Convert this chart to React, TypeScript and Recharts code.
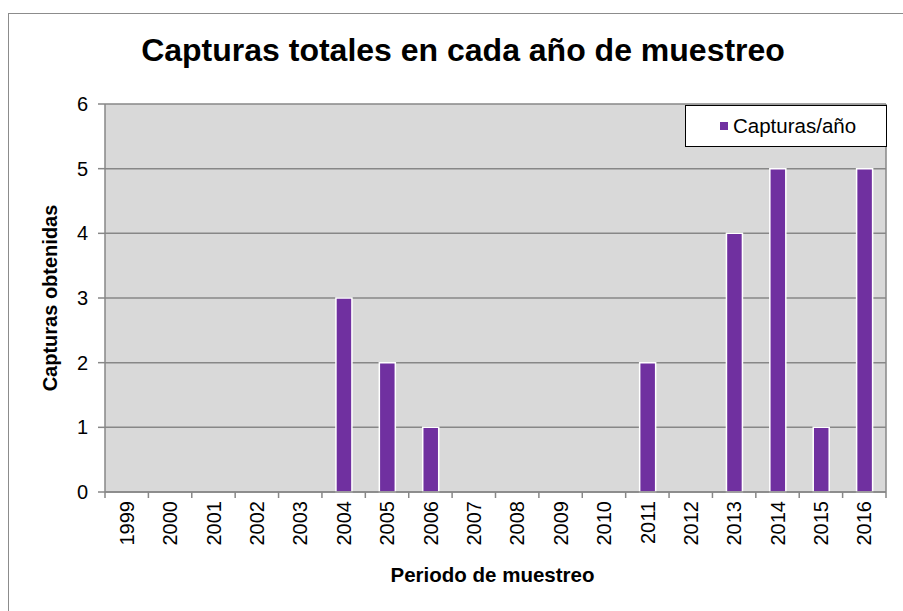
import React from "react";
import {
  Bar,
  BarChart,
  CartesianGrid,
  Label,
  Legend,
  XAxis,
  YAxis,
} from "recharts";

const years = [
  "1999", "2000", "2001", "2002", "2003", "2004", "2005", "2006", "2007",
  "2008", "2009", "2010", "2011", "2012", "2013", "2014", "2015", "2016",
];
const capturas = [0, 0, 0, 0, 0, 3, 2, 1, 0, 0, 0, 0, 2, 0, 4, 5, 1, 5];
const yTicks = [0, 1, 2, 3, 4, 5, 6];

const data = years.map((year, i) => ({ year, capturas: capturas[i] }));

const FONT = '"Liberation Sans", Arial, sans-serif';
const PURPLE = "#7030A0";
const GRID = "#878787";
const W = 903;
const H = 611;
const PLOT_LEFT = 105;
const PLOT_RIGHT = 886;
const PLOT_TOP = 104;
const PLOT_BOTTOM = 492;
const band = (PLOT_RIGHT - PLOT_LEFT) / years.length;

// ticks entre categorías, como en Excel
function YearTick(props: any) {
  const { x, y, payload, index } = props;
  const ty = y + 9;
  return (
    <g>
      <line x1={x - band / 2} y1={y} x2={x - band / 2} y2={y + 6} stroke={GRID} strokeWidth={1.5} />
      {index === years.length - 1 && (
        <line x1={x + band / 2} y1={y} x2={x + band / 2} y2={y + 6} stroke={GRID} strokeWidth={1.5} />
      )}
      <text
        x={x}
        y={ty}
        dy="0.36em"
        textAnchor="end"
        transform={`rotate(-90 ${x} ${ty})`}
        fontSize={20}
        fontFamily={FONT}
        fill="#000"
      >
        {payload.value}
      </text>
    </g>
  );
}

function LegendBox() {
  return (
    <div
      style={{
        boxSizing: "border-box",
        width: 202,
        height: 42,
        border: "1.5px solid #000",
        background: "#fff",
        display: "flex",
        alignItems: "center",
        fontFamily: FONT,
        fontSize: 20.5,
        color: "#000",
      }}
    >
      <span
        style={{
          display: "inline-block",
          width: 8,
          height: 8,
          background: PURPLE,
          marginLeft: 34,
          marginRight: 5,
        }}
      />
      <span>Capturas/año</span>
    </div>
  );
}

export default function App() {
  return (
    <div
      style={{
        position: "fixed",
        left: 0,
        top: 0,
        width: W,
        height: H,
        overflow: "hidden",
        background: "#fff",
        fontFamily: FONT,
      }}
    >
      <div
        style={{
          position: "absolute",
          left: 8,
          top: 13,
          width: W,
          height: H,
          border: "1px solid #8c8c8c",
        }}
      />
      <div
        style={{
          position: "absolute",
          left: 0,
          top: 34,
          width: 926,
          textAlign: "center",
          fontSize: 32,
          lineHeight: "32px",
          fontWeight: "bold",
          color: "#000",
        }}
      >
        Capturas totales en cada año de muestreo
      </div>
      <div style={{ position: "absolute", left: 0, top: 0 }}>
        <BarChart
          width={W}
          height={H}
          data={data}
          margin={{ top: PLOT_TOP, right: W - PLOT_RIGHT, bottom: 0, left: 0 }}
          barCategoryGap={0}
        >
          <CartesianGrid
            fill="#D9D9D9"
            fillOpacity={1}
            stroke={GRID}
            strokeWidth={1.5}
            verticalCoordinatesGenerator={({ offset }: any) => [offset.left + offset.width]}
          />
          <XAxis
            dataKey="year"
            interval={0}
            height={H - PLOT_BOTTOM}
            tickLine={false}
            tickSize={0}
            tickMargin={0}
            axisLine={{ stroke: GRID, strokeWidth: 1.5 }}
            tick={<YearTick />}
          >
            <Label
              content={({ viewBox }: any) => (
                <text
                  x={viewBox.x + viewBox.width / 2 - 3}
                  y={582}
                  textAnchor="middle"
                  fontSize={20.5}
                  fontWeight="bold"
                  fontFamily={FONT}
                  fill="#000"
                >
                  Periodo de muestreo
                </text>
              )}
            />
          </XAxis>
          <YAxis
            width={PLOT_LEFT}
            domain={[0, 6]}
            ticks={yTicks}
            interval={0}
            tickSize={7}
            tickMargin={10}
            axisLine={{ stroke: GRID, strokeWidth: 1.5 }}
            tickLine={{ stroke: GRID, strokeWidth: 1.5 }}
            tick={{ fill: "#000", fontSize: 20, fontFamily: FONT }}
          >
            <Label
              content={({ viewBox }: any) => {
                const cx = 50;
                const cy = viewBox.y + viewBox.height / 2;
                return (
                  <text
                    x={cx}
                    y={cy}
                    dy="0.36em"
                    textAnchor="middle"
                    transform={`rotate(-90 ${cx} ${cy})`}
                    fontSize={20}
                    fontWeight="bold"
                    fontFamily={FONT}
                    fill="#000"
                  >
                    Capturas obtenidas
                  </text>
                );
              }}
            />
          </YAxis>
          <Legend
            layout="horizontal"
            verticalAlign="middle"
            align="center"
            wrapperStyle={{ left: 685, top: 105, width: 202, height: 42 }}
            content={() => <LegendBox />}
          />
          <Bar
            dataKey="capturas"
            name="Capturas/año"
            fill={PURPLE}
            stroke="#fff"
            strokeWidth={1.5}
            barSize={16}
            isAnimationActive={false}
          />
        </BarChart>
      </div>
    </div>
  );
}
